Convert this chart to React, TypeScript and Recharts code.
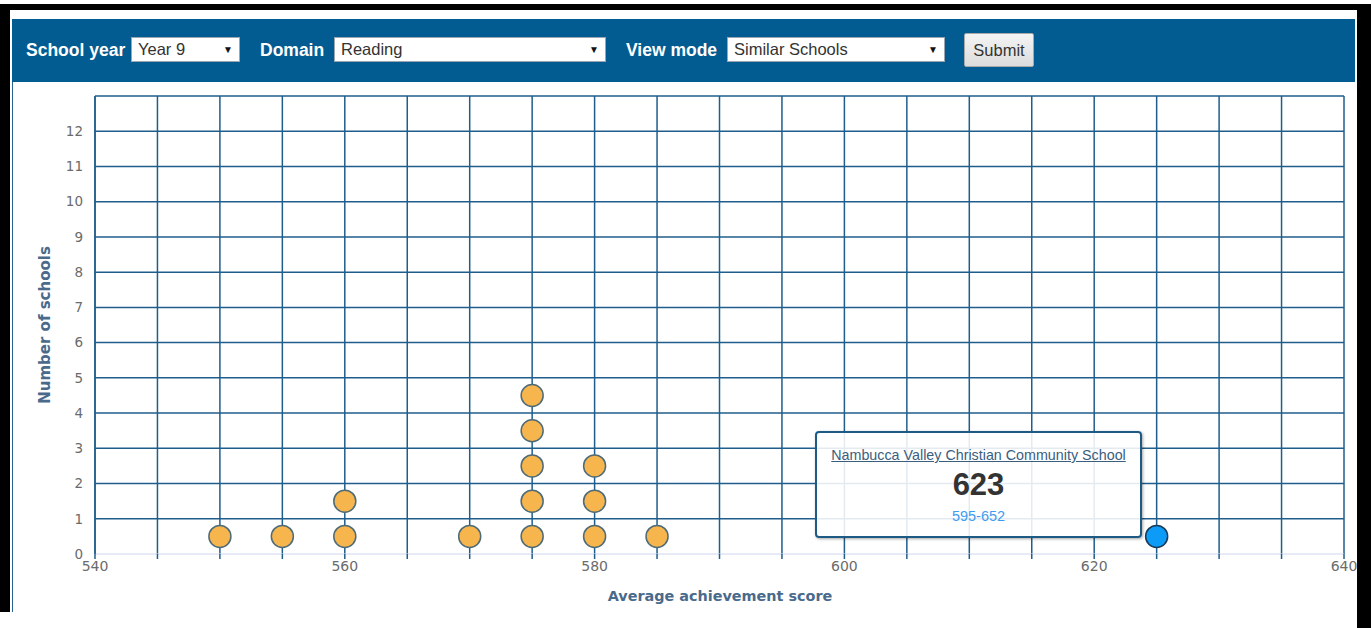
import { ScatterChart, Scatter, XAxis, YAxis, CartesianGrid } from 'recharts';

// similar schools: score bucket + stacked position
const SIMILAR_X = [550, 555, 560, 560, 570, 575, 575, 575, 575, 575, 580, 580, 580, 585];
const SIMILAR_Y = [0.5, 0.5, 0.5, 1.5, 0.5, 0.5, 1.5, 2.5, 3.5, 4.5, 0.5, 1.5, 2.5, 0.5];
const SCHOOL_X = [625];
const SCHOOL_Y = [0.5];

const X_TICKS = [540, 545, 550, 555, 560, 565, 570, 575, 580, 585, 590, 595, 600, 605, 610, 615, 620, 625, 630, 635, 640];
const Y_TICKS = [0, 1, 2, 3, 4, 5, 6, 7, 8, 9, 10, 11, 12, 13];
const H_GRID = [1, 2, 3, 4, 5, 6, 7, 8, 9, 10, 11, 12, 13];

const similar = SIMILAR_X.map((x, i) => ({ x, y: SIMILAR_Y[i] }));
const school = SCHOOL_X.map((x, i) => ({ x, y: SCHOOL_Y[i] }));

const GRID = '#1f5e8c';
const HEADER = '#035c91';
const AXIS_FONT = '"DejaVu Sans", Verdana, sans-serif';

const dot = (fill: string, stroke: string) => (p: any) => (
    <circle cx={p.cx} cy={p.cy} r={11} fill={fill} stroke={stroke} strokeWidth={1.5} />
);

function Select({ left, width, text }: { left: number; width: number; text: string }) {
    return (
        <div style={{
            position: 'absolute', left, top: 37, width, height: 25, boxSizing: 'border-box',
            background: '#fff', border: '1px solid #9aa7b3', fontFamily: '"Liberation Sans", Arial, sans-serif',
            fontSize: 16.5, color: '#333', lineHeight: '23px', paddingLeft: 6,
        }}>
            {text}
            <span style={{ position: 'absolute', right: 6, top: 0, fontSize: 10, color: '#111' }}>▼</span>
        </div>
    );
}

export default function App() {
    const label = { position: 'absolute' as const, top: 40, color: '#fff', fontWeight: 700, fontSize: 17.5, fontFamily: '"Liberation Sans", Arial, sans-serif' };
    return (
        <div style={{ position: 'absolute', left: 0, top: 0, width: 1371, height: 628, background: '#fff', overflow: 'hidden' }}>
            {/* header bar */}
            <div style={{ position: 'absolute', left: 12, top: 19, width: 1343, height: 63, background: HEADER }} />
            <div style={{ position: 'absolute', left: 12, top: 82, width: 1, height: 530, background: '#2a6592' }} />
            <div style={{ ...label, left: 26 }}>School year</div>
            <Select left={131} width={109} text="Year 9" />
            <div style={{ ...label, left: 260 }}>Domain</div>
            <Select left={334} width={272} text="Reading" />
            <div style={{ ...label, left: 626 }}>View mode</div>
            <Select left={727} width={218} text="Similar Schools" />
            <div style={{
                position: 'absolute', left: 964, top: 33, width: 70, height: 34, boxSizing: 'border-box',
                background: 'linear-gradient(#f4f4f4, #dcdcdc)', border: '1px solid #a9a9a9', borderRadius: 2,
                fontFamily: '"Liberation Sans", Arial, sans-serif', fontSize: 16.5, color: '#333',
                textAlign: 'center', lineHeight: '32px',
            }}>Submit</div>

            <div style={{ position: 'absolute', left: 0, top: 82 }}>
                <ScatterChart width={1371} height={546} margin={{ top: 14, right: 27, bottom: 44, left: 35 }}>
                    <CartesianGrid stroke={GRID} strokeWidth={1.5} verticalValues={X_TICKS} horizontalValues={H_GRID} />
                    <XAxis
                        type="number"
                        dataKey="x"
                        domain={[540, 640]}
                        ticks={X_TICKS}
                        interval={0}
                        height={30}
                        tickFormatter={(v: number) => (v % 20 === 0 ? String(v) : '')}
                        tick={{ fill: '#6b6b6b', fontSize: 14, fontFamily: AXIS_FONT }}
                        tickLine={{ stroke: GRID, strokeWidth: 1.5 }}
                        tickSize={5}
                        axisLine={{ stroke: '#ccd6eb' }}
                    />
                    <YAxis
                        type="number"
                        dataKey="y"
                        domain={[0, 13]}
                        ticks={Y_TICKS}
                        interval={0}
                        width={60}
                        tickFormatter={(v: number) => (v === 13 ? '' : String(v))}
                        tick={{ fill: '#6b6b6b', fontSize: 13.5, fontFamily: AXIS_FONT }}
                        tickLine={false}
                        tickMargin={6}
                        axisLine={{ stroke: GRID, strokeWidth: 1.5 }}
                    />
                    <Scatter data={similar} shape={dot('#f7b64d', '#4e6b78')} isAnimationActive={false} />
                    <Scatter data={school} shape={dot('#0d9bf8', '#1b3a55')} isAnimationActive={false} />
                </ScatterChart>
            </div>

            {/* axis titles */}
            <div style={{
                position: 'absolute', left: 45, top: 325, transform: 'translate(-50%, -50%) rotate(-90deg)',
                whiteSpace: 'nowrap', fontFamily: AXIS_FONT, fontWeight: 700, fontSize: 15, color: '#4a6a8c',
            }}>Number of schools</div>
            <div style={{
                position: 'absolute', left: 720, top: 596, transform: 'translate(-50%, -50%)',
                whiteSpace: 'nowrap', fontFamily: AXIS_FONT, fontWeight: 700, fontSize: 14.4, color: '#4a6a8c',
            }}>Average achievement score</div>

            {/* tooltip for the selected school */}
            <div style={{
                position: 'absolute', left: 815, top: 431, width: 327, height: 107, boxSizing: 'border-box',
                border: '2px solid #1d5a84', borderRadius: 4, background: 'rgba(255,255,255,0.88)',
                boxShadow: '1px 1px 3px rgba(0,0,0,0.35)', textAlign: 'center',
                fontFamily: '"Liberation Sans", Arial, sans-serif',
            }}>
                <div style={{ marginTop: 14, fontSize: 14.3, color: '#3b5e7e', textDecoration: 'underline' }}>
                    Nambucca Valley Christian Community School
                </div>
                <div style={{ marginTop: 5, fontSize: 31, fontWeight: 700, color: '#333', lineHeight: '34px' }}>623</div>
                <div style={{ marginTop: 6, fontSize: 14.5, color: '#3d9cf0' }}>595-652</div>
            </div>

            {/* black screenshot frame */}
            <div style={{ position: 'absolute', left: 0, top: 4, width: 1371, height: 6, background: '#000' }} />
            <div style={{ position: 'absolute', left: 0, top: 4, width: 10, height: 608, background: '#000' }} />
            <div style={{ position: 'absolute', left: 1357, top: 4, width: 14, height: 624, background: '#000' }} />
        </div>
    );
}
